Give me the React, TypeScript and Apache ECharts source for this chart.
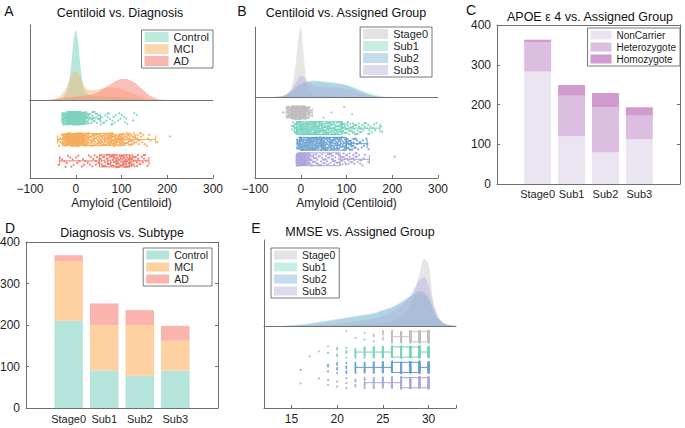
import React, { useEffect, useRef } from "react";
import * as echarts from "echarts";

const FONT = "'Liberation Sans', Arial, Helvetica, sans-serif";
const AXIS_COLOR = "#707070";
const TEXT_COLOR = "#1e1e1e";

// ----- Centiloid (panels A and B) -----
// left edges of the 10-unit bins used by the strip plots
const CL_BIN_LO = [-40, -30, -20, -10, 0, 10, 20, 30, 40, 50, 60, 70, 80, 90, 100, 110, 120, 130, 140, 150, 160, 170, 180, 190, 200];
const CL_BIN_W = 10;

const DX_NAMES = ["Control", "MCI", "AD"];
const CL_COUNT_CONTROL = [0, 25, 80, 140, 120, 45, 18, 10, 8, 6, 5, 4, 4, 3, 3, 2, 2, 1, 0, 0, 0, 0, 0, 0, 0];
const CL_COUNT_MCI = [5, 25, 50, 65, 60, 35, 20, 15, 15, 17, 18, 20, 20, 20, 18, 15, 12, 8, 5, 3, 2, 1, 0, 0, 1];
const CL_COUNT_AD = [2, 3, 3, 3, 4, 3, 3, 4, 5, 8, 9, 11, 13, 14, 15, 14, 11, 8, 5, 3, 0, 0, 0, 0, 0];

const GROUP_NAMES = ["Stage0", "Sub1", "Sub2", "Sub3"];
const CL_COUNT_STAGE0 = [2, 20, 90, 140, 90, 20, 2, 0, 1, 0, 1, 0, 0, 1, 0, 1, 0, 0, 0, 0, 0, 0, 0, 0, 0];
const CL_COUNT_SUB1 = [0, 0, 8, 20, 22, 22, 20, 19, 18, 17, 16, 15, 14, 12, 11, 10, 8, 6, 5, 4, 3, 2, 0, 0, 0];
const CL_COUNT_SUB2 = [0, 0, 0, 12, 20, 22, 22, 21, 20, 19, 18, 17, 16, 15, 12, 9, 6, 4, 3, 0, 0, 0, 0, 0, 0];
const CL_COUNT_SUB3 = [0, 0, 0, 35, 43, 22, 12, 9, 8, 8, 8, 8, 9, 9, 8, 7, 5, 4, 2, 0, 0, 0, 0, 0, 1];

// box plot summaries: [lower whisker, Q1, median, Q3, upper whisker]
const CL_BOX_DX = [
  [-28, -12, -3, 14, 54],
  [-40, -10, 15, 77, 175],
  [-35, 52, 90, 118, 160],
];
const CL_BOX_GROUP = [
  [-32, -14, -6, 3, 25],
  [-13, -9, 40, 90, 173],
  [-8, -2, 45, 100, 145],
  [-10, -8, 10, 86, 150],
];

// kernel density heights (arbitrary units) sampled along the Centiloid axis
const CL_DENS_X = [-60, -50, -40, -30, -20, -15, -10, -5, 0, 5, 10, 15, 20, 30, 40, 50, 60, 70, 80, 90, 100, 110, 120, 130, 140, 150, 160, 170, 180, 190, 200];
const DENS_CONTROL = [0, 0, 0.5, 2, 8, 18, 35, 58, 70, 58, 35, 18, 9, 5, 4, 4, 3.5, 3, 3, 3, 2.5, 2, 1.5, 1, 0.5, 0.2, 0, 0, 0, 0, 0];
const DENS_MCI = [0, 0.5, 2, 6, 13, 19, 24, 28, 29, 27, 22, 17, 13, 10, 10, 11, 12, 12.5, 12.5, 12, 11, 9, 7.5, 6, 4, 2.5, 1.2, 0.5, 0.1, 0, 0];
const DENS_AD = [0.3, 0.8, 1.5, 2, 2.5, 2.7, 3, 3.2, 3.5, 3.8, 4, 4.2, 4.5, 5, 6, 8, 11, 14, 17, 19.5, 21, 21, 19.5, 17, 13, 9, 5, 2.5, 1, 0.3, 0];
const DENS_STAGE0 = [0, 0, 0.5, 3, 10, 20, 38, 60, 70, 50, 25, 10, 4, 1.5, 1, 0.8, 0.8, 0.6, 0.5, 0.5, 0.4, 0.3, 0.2, 0, 0, 0, 0, 0, 0, 0, 0];
const DENS_SUB1 = [0, 0.2, 0.8, 2.5, 5, 7, 9, 11, 12, 13, 14, 14.5, 15, 15, 15, 14.5, 14, 13.5, 13, 12.5, 12, 10.5, 9, 7, 5.5, 4, 2.5, 1.5, 0.6, 0.2, 0];
const DENS_SUB2 = [0, 0.3, 1, 3, 6, 8, 10, 12, 13, 14, 15, 15.5, 16, 16.5, 16, 15.5, 15, 14.5, 14, 13, 12, 10, 8, 6, 4, 2.5, 1.3, 0.6, 0.2, 0, 0];
const DENS_SUB3 = [0, 0.3, 1, 3, 7, 11, 15, 19, 21, 21, 18, 15, 13, 11, 10, 9.5, 9.5, 9.5, 9, 8.5, 8, 7, 5.5, 4, 2.5, 1.5, 0.8, 0.3, 0, 0, 0];

// ----- APOE e4 by assigned group (panel C) -----
const NON_CARRIER = [283, 120, 79, 113];
const HETEROZYGOTE = [73, 102, 114, 59];
const HOMOZYGOTE = [7, 27, 36, 21];

// ----- Diagnosis by subtype (panel D) -----
const DX_CONTROL = [210, 91, 78, 90];
const DX_MCI = [144, 109, 122, 72];
const DX_AD = [14, 52, 36, 36];

// ----- MMSE (panel E) -----
const MMSE_VALUES = [16, 17, 18, 19, 20, 21, 22, 23, 24, 25, 26, 27, 28, 29, 30];
const MMSE_COUNT_STAGE0 = [0, 0, 0, 0, 0, 1, 1, 2, 3, 5, 15, 30, 70, 120, 121];
const MMSE_COUNT_SUB1 = [0, 1, 1, 2, 4, 4, 6, 10, 14, 20, 28, 35, 40, 45, 42];
const MMSE_COUNT_SUB2 = [1, 0, 0, 3, 5, 5, 7, 10, 13, 18, 24, 30, 36, 42, 42];
const MMSE_COUNT_SUB3 = [1, 0, 1, 2, 2, 3, 4, 6, 9, 13, 20, 27, 32, 40, 38];
const MMSE_BOX = [
  [26, 28, 29, 30, 30],
  [22, 26, 28, 29, 30],
  [22, 26, 28, 29, 30],
  [23, 27, 29, 30, 30],
];
const MMSE_DENS_X = [14, 16, 18, 20, 22, 24, 25, 26, 27, 27.5, 28, 28.5, 29, 29.5, 30, 30.5, 31, 31.5, 32, 33];
const MMSE_DENS_STAGE0 = [0, 0, 0, 0.3, 1, 2, 3, 5, 9, 13, 22, 36, 52, 67, 62, 26, 10, 4, 1.5, 0];
const MMSE_DENS_SUB1 = [0, 1, 3, 6, 9, 12, 15, 18, 23, 26, 29, 31, 32, 31, 27, 18, 9, 4, 1.5, 0];
const MMSE_DENS_SUB2 = [0, 1.5, 4, 7, 10, 13, 16, 19, 24, 27, 30, 33, 35, 34, 28, 16, 7, 3, 1, 0];
const MMSE_DENS_SUB3 = [0, 0.5, 1, 2.5, 4.5, 7.5, 10, 14, 20, 24, 30, 38, 46, 49, 40, 22, 10, 4, 1.5, 0];

// colours
const DX_POINT = ["#7fd3bf", "#f5ad5c", "#ee7a6a"];
const DX_FILL = ["rgba(135,214,194,0.6)", "rgba(246,186,122,0.5)", "rgba(248,138,128,0.55)"];
const DX_PATCH = ["#bfe9df", "#fad6ae", "#f9b5b0"];
const GROUP_POINT = ["#bdbdbd", "#78d4be", "#6fa4d2", "#aea8da"];
const GROUP_BOX = ["#c4c4c4", "#6fd1b9", "#5f9ad0", "#aba6da"];
const GROUP_FILL = ["rgba(200,200,200,0.45)", "rgba(125,213,192,0.35)", "rgba(116,168,212,0.38)", "rgba(178,172,222,0.42)"];
const GROUP_PATCH = ["#e3e3e3", "#c8eee4", "#c5dcef", "#dedbf1"];
const APOE_NAMES = ["NonCarrier", "Heterozygote", "Homozygote"];
const APOE_COLORS = ["#ebe5f2", "#dcbfe0", "#d29bd0"];
const BAR_DX_COLORS = ["#b4e4da", "#fdd1a2", "#fbb3ae"];

// jittered strip layout: each count is spread over its bin and across the row band
function strip(lo: number[], counts: number[], width: number, row: number, spread: number, seed: number) {
  const out: number[][] = [];
  let k = seed;
  counts.forEach((c, i) => {
    for (let j = 0; j < c; j++) {
      k += 1;
      const fx = (k * 0.7548776662466927) % 1;
      const fy = (k * 0.5698402909980532) % 1;
      out.push([lo[i] + fx * width, row + (2 * fy - 1) * spread]);
    }
  });
  return out;
}

function density(name: string, xs: number[], ys: number[], fill: string, axis: number) {
  return {
    type: "line",
    name,
    xAxisIndex: axis,
    yAxisIndex: axis,
    data: xs.map((x, i) => [x, ys[i]]),
    smooth: 0.35,
    symbol: "none",
    silent: true,
    lineStyle: { width: 0, color: fill },
    itemStyle: { color: fill },
    areaStyle: { color: fill, opacity: 1 },
    z: 2,
  };
}

function points(name: string, data: number[][], color: string, axis: number, size: number) {
  return {
    type: "scatter",
    name,
    xAxisIndex: axis,
    yAxisIndex: axis,
    data,
    symbol: "circle",
    symbolSize: size,
    silent: true,
    itemStyle: { color, opacity: 0.95 },
    z: 3,
  };
}

function boxes(name: string, stats: number[][], colors: string[], axis: number, half: number) {
  return {
    type: "custom",
    name,
    xAxisIndex: axis,
    yAxisIndex: axis,
    silent: true,
    z: 4,
    data: stats.map((s, i) => [i + 1, ...s, i]),
    encode: { x: [1, 2, 3, 4, 5], y: 0 },
    renderItem: (_params: any, api: any) => {
      const row = api.value(0);
      const mn = api.value(1);
      const q1 = api.value(2);
      const md = api.value(3);
      const q3 = api.value(4);
      const mx = api.value(5);
      const color = colors[api.value(6)];
      const px = (v: number) => api.coord([v, row])[0];
      const y = api.coord([q1, row])[1];
      const h = Math.abs(api.size([0, half])[1]);
      const c = h * 0.7;
      const st = { stroke: color, lineWidth: 1, fill: "none" };
      return {
        type: "group",
        children: [
          { type: "rect", shape: { x: px(q1), y: y - h, width: px(q3) - px(q1), height: 2 * h }, style: st },
          { type: "line", shape: { x1: px(md), y1: y - h, x2: px(md), y2: y + h }, style: st },
          { type: "line", shape: { x1: px(mn), y1: y, x2: px(q1), y2: y }, style: st },
          { type: "line", shape: { x1: px(q3), y1: y, x2: px(mx), y2: y }, style: st },
          { type: "line", shape: { x1: px(mn), y1: y - c, x2: px(mn), y2: y + c }, style: st },
          { type: "line", shape: { x1: px(mx), y1: y - c, x2: px(mx), y2: y + c }, style: st },
        ],
      };
    },
  };
}

function stackedBars(names: string[], values: number[][], colors: string[], axis: number, stack: string, width: number) {
  return names.map((n, i) => ({
    type: "bar",
    name: n,
    xAxisIndex: axis,
    yAxisIndex: axis,
    stack,
    barWidth: width,
    silent: true,
    itemStyle: { color: colors[i] },
    data: values[i],
  }));
}

const AXIS_LINE = { show: true, onZero: false, lineStyle: { color: AXIS_COLOR, width: 1 } };
const TICK_IN = { show: true, inside: true, length: 3, lineStyle: { color: AXIS_COLOR } };
const NO = { show: false };

function plainAxis(gridIndex: number, min: number, max: number, extra: any = {}) {
  return {
    type: "value",
    gridIndex,
    min,
    max,
    axisLine: AXIS_LINE,
    axisTick: NO,
    axisLabel: NO,
    splitLine: NO,
    ...extra,
  };
}

const minus = (v: number) => (v < 0 ? `\u2212${Math.abs(v)}` : `${v}`);

const centiloidAxis = (gridIndex: number) =>
  plainAxis(gridIndex, -100, 300, {
    interval: 100,
    axisTick: TICK_IN,
    axisLabel: { color: TEXT_COLOR, fontSize: 12, fontFamily: FONT, margin: 5, formatter: minus },
    name: "Amyloid (Centiloid)",
    nameLocation: "middle",
    nameGap: 19,
    nameTextStyle: { color: TEXT_COLOR, fontSize: 12, fontFamily: FONT },
  });

const countAxis = (gridIndex: number) =>
  plainAxis(gridIndex, 0, 400, {
    interval: 100,
    axisTick: TICK_IN,
    axisLabel: { color: TEXT_COLOR, fontSize: 12, fontFamily: FONT, margin: 6 },
  });

const categoryAxis = (gridIndex: number, margin: number) => ({
  type: "category",
  gridIndex,
  data: GROUP_NAMES,
  boundaryGap: true,
  axisLine: NO,
  axisTick: NO,
  splitLine: NO,
  axisLabel: { color: TEXT_COLOR, fontSize: 11, fontFamily: FONT, margin, interval: 0 },
});

function legend(names: string[], patches: string[], pos: any, iw: number, ih: number, fs: number) {
  return {
    ...pos,
    orient: "vertical",
    selectedMode: false,
    itemWidth: iw,
    itemHeight: ih,
    itemGap: 0,
    padding: [1, 4, 1, 3],
    borderColor: "#555",
    borderWidth: 0.8,
    borderRadius: 0,
    backgroundColor: "#fff",
    textStyle: { fontSize: fs, fontFamily: FONT, color: TEXT_COLOR, lineHeight: 12 },
    data: names.map((n, i) => ({ name: n, icon: "rect", itemStyle: { color: patches[i], borderWidth: 0 } })),
  };
}

function text(str: string, x: number, y: number, size: number) {
  return {
    type: "text",
    x,
    y,
    style: { text: str, fontSize: size, fontFamily: FONT, fill: "#111", align: "center", verticalAlign: "middle" },
  };
}

// a bar grid sits inside its framed grid: four category bands, each 1/5.4 of the
// frame width, with 0.7 band of padding on either side
function barGrid(frameLeft: number, frameWidth: number, top: number, height: number) {
  const band = frameWidth / 5.4;
  return { left: frameLeft + 0.7 * band, top, width: 4 * band, height, containLabel: false, outerBoundsMode: "none" };
}

function buildOption() {
  const dxCounts = [CL_COUNT_CONTROL, CL_COUNT_MCI, CL_COUNT_AD];
  const dxDens = [DENS_CONTROL, DENS_MCI, DENS_AD];
  const grCounts = [CL_COUNT_STAGE0, CL_COUNT_SUB1, CL_COUNT_SUB2, CL_COUNT_SUB3];
  const grDens = [DENS_STAGE0, DENS_SUB1, DENS_SUB2, DENS_SUB3];
  const mmseCounts = [MMSE_COUNT_STAGE0, MMSE_COUNT_SUB1, MMSE_COUNT_SUB2, MMSE_COUNT_SUB3];
  const mmseDens = [MMSE_DENS_STAGE0, MMSE_DENS_SUB1, MMSE_DENS_SUB2, MMSE_DENS_SUB3];

  const series: any[] = [];
  // A
  DX_NAMES.forEach((n, i) => series.push(density(n, CL_DENS_X, dxDens[i], DX_FILL[i], 0)));
  DX_NAMES.forEach((n, i) =>
    series.push(points(n, strip(CL_BIN_LO, dxCounts[i], CL_BIN_W, i + 1, 0.3, i * 1000), DX_POINT[i], 1, 2.2))
  );
  series.push(boxes("Diagnosis box", CL_BOX_DX, DX_POINT, 1, 0.28));
  // B
  GROUP_NAMES.forEach((n, i) => series.push(density(n, CL_DENS_X, grDens[i], GROUP_FILL[i], 2)));
  GROUP_NAMES.forEach((n, i) =>
    series.push(points(n, strip(CL_BIN_LO, grCounts[i], CL_BIN_W, i + 1, 0.4, i * 1000 + 500), GROUP_POINT[i], 3, 2.2))
  );
  series.push(boxes("Group box", CL_BOX_GROUP, GROUP_BOX, 3, 0.41));
  // C
  series.push(...stackedBars(APOE_NAMES, [NON_CARRIER, HETEROZYGOTE, HOMOZYGOTE], APOE_COLORS, 10, "apoe", 27));
  // D
  series.push(...stackedBars(DX_NAMES, [DX_CONTROL, DX_MCI, DX_AD], BAR_DX_COLORS, 11, "dx", 28.5));
  // E
  GROUP_NAMES.forEach((n, i) => series.push(density(n, MMSE_DENS_X, mmseDens[i], GROUP_FILL[i], 8)));
  GROUP_NAMES.forEach((n, i) =>
    series.push(points(n, strip(MMSE_VALUES, mmseCounts[i], 0, i + 1, 0.38, i * 1000 + 250), GROUP_POINT[i], 9, 2))
  );
  series.push(boxes("MMSE box", MMSE_BOX, GROUP_BOX, 9, 0.33));

  const grid = (left: number, top: number, width: number, height: number) => ({
    left,
    top,
    width,
    height,
    containLabel: false,
    outerBoundsMode: "none",
  });

  return {
    animation: false,
    backgroundColor: "#fff",
    textStyle: { fontFamily: FONT },
    grid: [
      grid(30, 25, 183, 75),
      grid(30, 100, 183, 78),
      grid(255, 27, 183, 70),
      grid(255, 97, 183, 81),
      grid(497, 25, 183, 159),
      grid(26, 242, 192, 166),
      grid(264, 240, 192, 86),
      grid(264, 326, 192, 82),
      barGrid(497, 183, 25, 159),
      barGrid(26, 192, 242, 166),
    ],
    xAxis: [
      plainAxis(0, -100, 300),
      centiloidAxis(1),
      plainAxis(2, -100, 300),
      centiloidAxis(3),
      plainAxis(4, 0, 1),
      plainAxis(4, 0, 1, { position: "top" }),
      plainAxis(5, 0, 1),
      plainAxis(5, 0, 1, { position: "top" }),
      plainAxis(6, 12, 33),
      plainAxis(7, 12, 33, {
        splitNumber: 4,
        axisTick: TICK_IN,
        axisLabel: {
          color: TEXT_COLOR,
          fontSize: 12,
          fontFamily: FONT,
          margin: 5,
          formatter: (v: number) => (Math.abs(v % 5) < 1e-6 ? `${v}` : ""),
        },
      }),
      categoryAxis(8, 4),
      categoryAxis(9, 5),
    ],
    yAxis: [
      plainAxis(0, 0, 75),
      plainAxis(1, 0.15, 3.8, { inverse: true }),
      plainAxis(2, 0, 70),
      plainAxis(3, 0, 5.2, { inverse: true }),
      countAxis(4),
      plainAxis(4, 0, 400, { position: "right", interval: 100, axisTick: TICK_IN }),
      countAxis(5),
      plainAxis(5, 0, 400, { position: "right", interval: 100, axisTick: TICK_IN }),
      plainAxis(6, 0, 86),
      plainAxis(7, 0.3, 5.65, { inverse: true }),
      plainAxis(8, 0, 400, { axisLine: NO }),
      plainAxis(9, 0, 400, { axisLine: NO }),
    ],
    legend: [
      legend(DX_NAMES, DX_PATCH, { right: 472, top: 30 }, 24, 10, 11),
      legend(GROUP_NAMES, GROUP_PATCH, { right: 253, top: 27 }, 25, 10, 11),
      legend(APOE_NAMES, APOE_COLORS, { right: 5, top: 28 }, 21, 9, 10),
      legend(DX_NAMES, BAR_DX_COLORS, { right: 473, top: 248 }, 23, 9, 10.5),
      legend(GROUP_NAMES, GROUP_PATCH, { left: 271, top: 248 }, 23, 9, 10.5),
    ],
    graphic: [
      text("A", 9, 11, 14),
      text("B", 242, 11, 14),
      text("C", 471, 10, 14),
      text("D", 10, 228, 14),
      text("E", 256, 228, 14),
      text("Centiloid vs. Diagnosis", 120, 13, 12.5),
      text("Centiloid vs. Assigned Group", 346, 13, 12.5),
      text("APOE \u03b5 4 vs. Assigned Group", 590, 17, 12.5),
      text("Diagnosis vs. Subtype", 122, 233, 12.5),
      text("MMSE vs. Assigned Group", 360, 232, 12.5),
    ],
    series,
  };
}

export default function App() {
  const ref = useRef<HTMLDivElement>(null);
  useEffect(() => {
    if (!ref.current) return;
    const chart = echarts.init(ref.current, undefined, { renderer: "svg" });
    chart.setOption(buildOption() as any);
    return () => chart.dispose();
  }, []);
  return (
    <div
      ref={ref}
      style={{ position: "fixed", left: 0, top: 0, width: 685, height: 428, background: "#fff" }}
    />
  );
}
